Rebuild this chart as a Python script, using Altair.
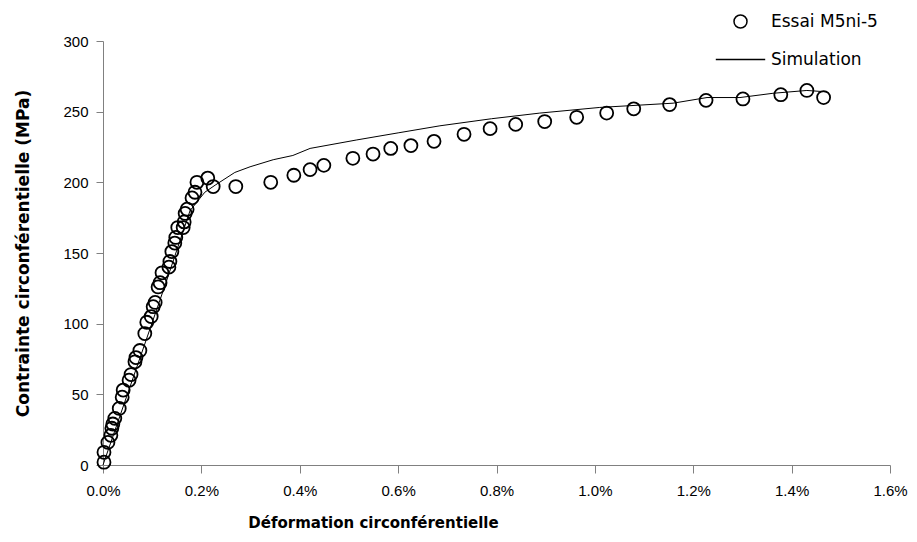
import altair as alt
import pandas as pd

# ---- data ----
series_names = ["Essai M5ni-5", "Simulation"]

essai_strain = [0.002, 0.002, 0.010, 0.016, 0.018, 0.020, 0.024, 0.033, 0.039, 0.041,
                0.053, 0.057, 0.065, 0.067, 0.075, 0.085, 0.089, 0.098, 0.102, 0.106,
                0.112, 0.116, 0.120, 0.134, 0.136, 0.140, 0.146, 0.148, 0.152, 0.163,
                0.165, 0.167, 0.171, 0.181, 0.187, 0.191, 0.213, 0.224, 0.270, 0.341,
                0.388, 0.421, 0.449, 0.508, 0.549, 0.585, 0.626, 0.673, 0.734, 0.787,
                0.839, 0.898, 0.963, 1.024, 1.079, 1.152, 1.226, 1.301, 1.378, 1.431,
                1.465]
essai_stress = [2, 9, 16, 21, 26, 29, 33, 40, 48, 53,
                60, 64, 73, 76, 81, 93, 101, 105, 112, 115,
                126, 129, 136, 140, 144, 151, 157, 161, 168, 168,
                172, 178, 181, 189, 193, 200, 203, 197, 197, 200,
                205, 209, 212, 217, 220, 224, 226, 229, 234, 238,
                241, 243, 246, 249, 252, 255, 258, 259, 262, 265,
                260]

sim_strain = [0.0, 0.126, 0.177, 0.207, 0.228, 0.268, 0.299, 0.346, 0.386, 0.421,
              0.516, 0.600, 0.685, 0.790, 0.888, 1.010, 1.159, 1.228, 1.295, 1.362,
              1.431, 1.472]
sim_stress = [0, 127, 180, 193, 198, 207, 211, 216, 219, 224,
              230, 235, 240, 245, 249, 253, 256, 260, 260, 263,
              265, 264]

x_ticks = [0.0, 0.2, 0.4, 0.6, 0.8, 1.0, 1.2, 1.4, 1.6]
y_ticks = [0, 50, 100, 150, 200, 250, 300]

FONT = "Liberation Sans"
WIDE = "DejaVu Sans"

essai = pd.DataFrame({"strain": essai_strain, "stress": essai_stress,
                      "series": series_names[0]})
sim = pd.DataFrame({"strain": sim_strain, "stress": sim_stress,
                    "series": series_names[1]})

x_enc = alt.X(
    "strain:Q",
    scale=alt.Scale(domain=[0, 1.6], nice=False, zero=True, padding=0),
    axis=alt.Axis(
        values=x_ticks,
        labelExpr="format(datum.value, '.1f') + '%'",
        labelFlush=False,
        title="Déformation circonférentielle",
        titleX=270,
        titlePadding=17,
        titleFontSize=15,
        tickSize=8,
        labelPadding=10,
    ),
)
y_enc = alt.Y(
    "stress:Q",
    scale=alt.Scale(domain=[0, 300], nice=False, padding=0),
    axis=alt.Axis(
        values=y_ticks,
        labelFlush=False,
        title="Contrainte circonférentielle (MPa)",
        titlePadding=30,
        titleFontSize=17,
        tickSize=7,
        labelPadding=8,
    ),
)

line = alt.Chart(sim).mark_line(color="black", strokeWidth=1).encode(
    x=x_enc, y=y_enc
)

points = alt.Chart(essai).mark_point(
    filled=False, color="black", strokeWidth=1.8, size=169, opacity=1
).encode(
    x=x_enc,
    y=y_enc,
    shape=alt.Shape(
        "series:N",
        scale=alt.Scale(domain=series_names, range=["circle", "M-3.8,0H3.8"]),
        legend=alt.Legend(
            orient="none",
            legendX=629,
            legendY=-28,
            title=None,
            padding=0,
            labelFont=WIDE,
            labelFontSize=17,
            labelColor="black",
            labelOffset=22,
            rowPadding=19,
            symbolSize=169,
            symbolStrokeColor="black",
            symbolFillColor="transparent",
            symbolStrokeWidth=1.5,
        ),
    ),
)

chart = (
    alt.layer(line, points)
    .properties(
        width=787,
        height=424,
        autosize=alt.AutoSizeParams(type="none"),
        padding={"left": 95, "top": 33, "right": 19, "bottom": 69},
    )
    .configure_view(stroke=None)
    .configure_axis(
        grid=False,
        domainColor="#808080",
        tickColor="#808080",
        labelFont=FONT,
        labelFontSize=15,
        labelColor="black",
        titleFont=WIDE,
        titleFontWeight="bold",
        titleColor="black",
    )
)

chart.save("out.html", embed_options={"renderer": "svg", "actions": False})
